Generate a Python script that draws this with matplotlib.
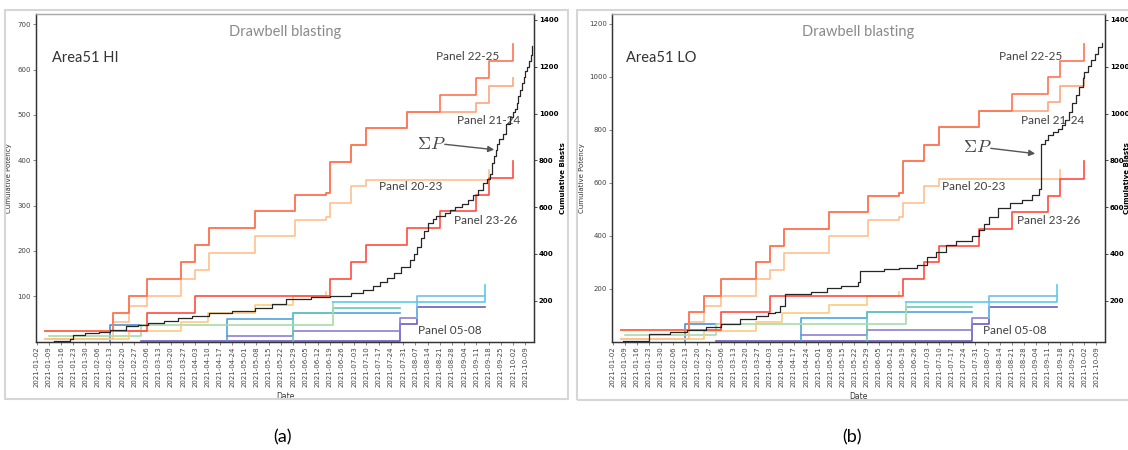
import matplotlib
matplotlib.use("Agg")
import matplotlib.pyplot as plt
import matplotlib.dates as mdates
from matplotlib.patches import Rectangle
import pandas as pd

# ---------------- data ----------------
tick_dates = pd.date_range("2021-01-02", "2021-10-09", freq="7D")

# big panels (HI = panel a, LO = panel b)
p2225_dates = ['01-07', '02-15', '02-24', '03-06', '03-26', '04-03', '04-11', '05-07', '05-30',
               '06-17', '06-19', '07-01', '07-10', '08-02', '08-21', '09-11', '09-18', '10-02']
p2225_hi = [24, 63, 100, 138, 175, 212, 250, 287, 324, 327, 396, 433, 471, 507, 544, 582, 619, 657]
p2225_lo = [45, 110, 172, 237, 300, 362, 425, 489, 551, 560, 680, 744, 809, 869, 934, 999, 1061, 1125]

p2124_dates = ['01-07', '02-15', '02-24', '03-06', '03-26', '04-03', '04-11', '05-07', '05-30',
               '06-17', '06-19', '07-01', '07-10', '08-02', '09-11', '09-18', '10-02']
p2124_hi = [24, 63, 100, 138, 175, 212, 250, 287, 324, 327, 396, 433, 471, 507, 526, 564, 582]
p2124_lo = [45, 110, 172, 237, 300, 362, 425, 489, 551, 560, 680, 744, 809, 869, 903, 967, 999]

p2023_dates = ['01-07', '02-15', '02-24', '03-06', '03-26', '04-03', '04-11', '05-07', '05-30',
               '06-17', '06-19', '07-01', '07-10', '09-18']
p2023_hi = [6, 44, 79, 100, 138, 158, 195, 232, 269, 274, 306, 343, 357, 379]
p2023_lo = [10, 75, 135, 171, 236, 270, 333, 397, 460, 469, 523, 587, 615, 649]

p1922_dates = ['01-07', '02-24', '03-26', '04-10', '05-07', '05-29', '06-17']
p1922_hi = [6, 24, 44, 63, 81, 100, 109]
p1922_lo = [10, 41, 75, 108, 139, 171, 186]

p2326_dates = ['01-07', '03-06', '04-03', '06-19', '07-01', '07-10', '08-02', '08-21', '09-11', '09-18', '10-02']
p2326_hi = [24, 63, 100, 138, 175, 212, 250, 287, 324, 361, 398]
p2326_lo = [45, 110, 172, 237, 300, 362, 425, 489, 551, 615, 680]

# small panels (05-08 group)
s_blue_dates = ['02-13', '02-13', '03-03']
s_blue_hi = [0, 37, 37]
s_blue_lo = [0, 66, 66]

s_green_dates = ['01-09', '03-03', '06-21']
s_green_hi = [13, 37, 87]
s_green_lo = [25, 66, 150]

s_cyan_dates = ['06-21', '09-16']
s_cyan_hi = [87, 124]
s_cyan_lo = [150, 212]

s_teal_dates = ['05-29', '05-29', '06-21', '07-29']
s_teal_hi = [0, 63, 75, 75]
s_teal_lo = [0, 110, 129, 129]

s_blue2_dates = ['04-21', '04-21', '05-29', '07-29']
s_blue2_hi = [0, 50, 63, 63]
s_blue2_lo = [0, 87, 110, 110]

s_purple_dates = ['03-03', '07-29', '08-08', '09-16']
s_purple_hi = [1, 38, 76, 76]
s_purple_lo = [2, 66, 129, 129]

s_purple2_dates = ['04-21', '05-29', '07-29', '08-08']
s_purple2_hi = [13, 24, 52, 52]
s_purple2_lo = [25, 45, 87, 87]

s_ltblue_dates = ['08-08', '08-08', '09-16']
s_ltblue_hi = [52, 100, 100]
s_ltblue_lo = [87, 172, 172]

# cumulative blasts (black line, right axis)
blasts_hi_dates = ['01-12', '01-21', '01-23', '01-30', '02-07', '02-13', '02-22', '03-01', '03-07', '03-16',
                   '03-24', '04-01', '04-11', '04-24', '05-07', '05-17', '05-25', '06-08', '06-19', '07-01',
                   '07-08', '07-14', '07-18', '07-22', '07-26', '07-30', '08-04', '08-06', '08-08', '08-10',
                   '08-12', '08-14', '08-17', '08-19', '08-24', '08-27', '08-30', '09-03', '09-06', '09-09',
                   '09-12', '09-15', '09-17', '09-19', '09-20', '09-21', '09-22', '09-23', '09-24', '09-26',
                   '09-28', '09-30', '10-02', '10-03', '10-04', '10-05', '10-06', '10-07', '10-08', '10-09',
                   '10-10', '10-11', '10-12', '10-13']
blasts_hi = [28, 35, 53, 61, 68, 75, 92, 96, 106, 115,
             125, 135, 146, 155, 167, 186, 206, 214, 220, 234,
             248, 263, 281, 298, 317, 345, 374, 400, 431, 470,
             500, 531, 550, 563, 574, 588, 600, 615, 631, 652,
             674, 703, 722, 743, 790, 820, 843, 870, 890, 914,
             955, 986, 1005, 1020, 1045, 1075, 1100, 1130, 1157, 1180,
             1200, 1225, 1250, 1290]

blasts_lo_dates = ['01-08', '01-22', '01-23', '02-04', '02-14', '02-25', '03-06', '03-17', '03-26', '04-02',
                   '04-06', '04-09', '04-12', '04-27', '05-06', '05-14', '05-24', '05-25', '06-08', '06-17',
                   '06-27', '07-03', '07-08', '07-14', '07-20', '07-29', '08-02', '08-05', '08-08', '08-13',
                   '08-20', '08-27', '09-02', '09-06', '09-07', '09-09', '09-11', '09-14', '09-17', '09-19',
                   '09-21', '09-23', '09-25', '09-27', '09-29', '10-01', '10-02', '10-04', '10-06', '10-08',
                   '10-10', '10-12']
blasts_lo = [27, 30, 57, 67, 74, 89, 100, 120, 134, 146,
             150, 176, 231, 239, 253, 263, 281, 329, 334, 341,
             353, 385, 410, 439, 457, 477, 503, 530, 560, 596,
             617, 631, 653, 679, 871, 886, 907, 920, 936, 950,
             971, 1005, 1043, 1080, 1114, 1150, 1179, 1205, 1229, 1255,
             1286, 1300]

# ---------------- drawing ----------------
W, H = 1128, 450
fig = plt.figure(figsize=(W / 100, H / 100), dpi=100)
plt.rcParams['mathtext.fontset'] = 'cm'
TXT = ['Lato', 'DejaVu Sans']


def to_dt(lst):
    return pd.to_datetime(['2021-' + s for s in lst])


LINES = [
    (s_purple_dates, s_purple_hi, s_purple_lo, '#6A5CC0'),
    (s_purple2_dates, s_purple2_hi, s_purple2_lo, '#8C7FD2'),
    (s_blue_dates, s_blue_hi, s_blue_lo, '#4F8ED8'),
    (s_blue2_dates, s_blue2_hi, s_blue2_lo, '#4FA3DE'),
    (s_teal_dates, s_teal_hi, s_teal_lo, '#66C8BE'),
    (s_green_dates, s_green_hi, s_green_lo, '#A8DBA8'),
    (s_cyan_dates, s_cyan_hi, s_cyan_lo, '#5BCBE6'),
    (s_ltblue_dates, s_ltblue_hi, s_ltblue_lo, '#74BDEB'),
    (p1922_dates, p1922_hi, p1922_lo, '#FBCB7E'),
    (p2023_dates, p2023_hi, p2023_lo, '#FFC08C'),
    (p2124_dates, p2124_hi, p2124_lo, '#FFA47C'),
    (p2326_dates, p2326_hi, p2326_lo, '#FF4B3E'),
    (p2225_dates, p2225_hi, p2225_lo, '#FF7352'),
]

XL = (pd.Timestamp('2021-01-01 16:00'), pd.Timestamp('2021-10-14 00:00'))


def frac(px_x, px_y, left, width):
    return (px_x - left) / width, (341.5 - px_y) / 327.2


def draw_panel(left_px, right_px, which, ylim, yticks, bdates, bvals, area_label, pos):
    width_px = right_px - left_px
    ax = fig.add_axes([left_px / W, 1 - 341.5 / H, width_px / W, 327.2 / H])
    for dates, hi, lo, col in LINES:
        ax.step(to_dt(dates), hi if which == 'hi' else lo, where='post', color=col, lw=1.2)
    ax.set_xlim(*XL)
    ax.set_ylim(*ylim)
    ax.set_yticks(yticks)
    ax.set_xticks(tick_dates)
    ax.xaxis.set_major_formatter(mdates.DateFormatter('%Y-%m-%d'))
    ax.tick_params(axis='x', labelrotation=90, labelsize=5, length=2, width=0.5, pad=1.5,
                   colors='#555', labelcolor='#444')
    ax.tick_params(axis='y', labelsize=5, length=2, width=0.5, pad=1.5, colors='#555', labelcolor='#444')
    ax.set_ylabel('Cumulative Potency', fontsize=5, color='#333')
    ax.yaxis.set_label_coords(pos['ylab'], 0.5)
    ax.set_xlabel('Date', fontsize=5.5, color='#333')
    ax.xaxis.set_label_coords(0.5, -0.154)

    ax2 = ax.twinx()
    ax2.step(to_dt(bdates), bvals, where='post', color='#262626', lw=0.9)
    ax2.set_xlim(*XL)
    ax2.set_ylim(26, 1424)
    ax2.set_yticks(range(200, 1401, 200))
    ax2.set_yticklabels([str(v) for v in range(200, 1401, 200)], fontsize=5, fontweight='bold')
    ax2.tick_params(axis='y', length=2, width=0.5, pad=1.5)
    ax2.set_ylabel('Cumulative Blasts', fontsize=5, fontweight='bold')
    ax2.yaxis.set_label_coords(pos['y2lab'], 0.5)

    for a in (ax, ax2):
        for s in ('left', 'right', 'bottom'):
            a.spines[s].set_color('#333')
            a.spines[s].set_linewidth(0.9)
        a.spines['top'].set_color('#aaaaaa')
        a.spines['top'].set_linewidth(0.9)

    tr = ax2.transAxes
    ax2.text(0.5, frac(0, 32, 0, 1)[1], 'Drawbell blasting', transform=tr, ha='center', va='center',
             fontsize=10.5, color='#8a8a8a', family=TXT)
    x, y = frac(pos['area'][0], pos['area'][1], left_px, width_px)
    ax2.text(x, y, area_label, transform=tr, ha='left', va='center', fontsize=10.5, color='#333', family=TXT)
    for lbl, (px, py) in pos['labels'].items():
        x, y = frac(px, py, left_px, width_px)
        ax2.text(x, y, lbl, transform=tr, ha='left', va='center', fontsize=8.5, color='#404040', family=TXT)
    x, y = frac(pos['sig'][0], pos['sig'][1], left_px, width_px)
    ax2.text(x, y, r'$\Sigma P$', transform=tr, ha='left', va='center', fontsize=13, color='#444')
    tail = frac(pos['tail'][0], pos['tail'][1], left_px, width_px)
    tip = frac(pos['tip'][0], pos['tip'][1], left_px, width_px)
    ax2.annotate('', xy=tip, xytext=tail, xycoords='axes fraction', textcoords='axes fraction',
                 arrowprops=dict(arrowstyle='-|>', color='#555', lw=1.0, mutation_scale=9))
    return ax, ax2


pos_hi = dict(ylab=-0.048, y2lab=1.052, area=(52, 58), sig=(417, 144), tail=(442, 144), tip=(497, 150),
              labels={'Panel 22-25': (436, 56), 'Panel 21-24': (457, 120), 'Panel 20-23': (379, 187),
                      'Panel 23-26': (454, 220), 'Panel 05-08': (418, 330)})
pos_lo = dict(ylab=-0.055, y2lab=1.038, area=(626, 58), sig=(963, 147), tail=(988, 148), tip=(1038, 154),
              labels={'Panel 22-25': (999, 56), 'Panel 21-24': (1021, 120), 'Panel 20-23': (942, 187),
                      'Panel 23-26': (1017, 220), 'Panel 05-08': (983, 330)})

draw_panel(36, 534, 'hi', (0, 722), range(100, 701, 100), blasts_hi_dates, blasts_hi, 'Area51 HI', pos_hi)
draw_panel(612, 1105, 'lo', (0, 1236), range(200, 1201, 200), blasts_lo_dates, blasts_lo, 'Area51 LO', pos_lo)

# panel frames
fig.add_artist(Rectangle((5 / W, 1 - 399 / H), 563 / W, 389 / H, transform=fig.transFigure,
                         fill=False, ec='#d6d6d6', lw=1.5))
fig.add_artist(Rectangle((577 / W, 1 - 400 / H), 600 / W, 390 / H, transform=fig.transFigure,
                         fill=False, ec='#d6d6d6', lw=1.5))

fig.text(283 / W, 1 - 437 / H, '(a)', ha='center', va='center', fontsize=13, family=TXT)
fig.text(852 / W, 1 - 437 / H, '(b)', ha='center', va='center', fontsize=13, family=TXT)

fig.savefig('out.png', dpi=100)
